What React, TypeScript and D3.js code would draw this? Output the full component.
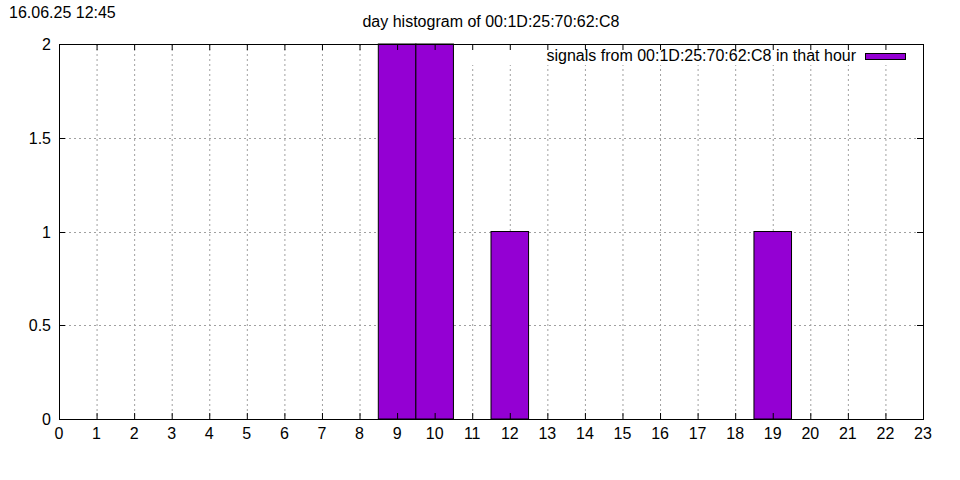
import React from "react";
import * as d3 from "d3";

const hours = [0,1,2,3,4,5,6,7,8,9,10,11,12,13,14,15,16,17,18,19,20,21,22,23];
const counts = [0,0,0,0,0,0,0,0,0,2,2,0,1,0,0,0,0,0,0,1,0,0,0,0];
const yTicks = [0, 0.5, 1, 1.5, 2];
const xTicks = hours;
const title = "day histogram of 00:1D:25:70:62:C8";
const timestamp = "16.06.25 12:45";
const legendLabel = "signals from 00:1D:25:70:62:C8 in that hour";

export default function App() {
  const W = 960, H = 480;
  const L = 59, R = 923, T = 44, B = 419;
  const x = d3.scaleLinear().domain([0, 23]).range([L, R]);
  const y = d3.scaleLinear().domain([0, 2]).range([B, T]);
  const font = "'Liberation Sans', Arial, sans-serif";
  const color = "#9400d3";
  const tick = 6;
  return (
    <svg width={W} height={H} style={{ position: "absolute", left: 0, top: 0, background: "#fff" }} fontFamily={font}>
      <rect x={0} y={0} width={W} height={H} fill="#fff" />
      {/* grid */}
      {xTicks.filter(v => v > 0 && v < 23).map(v => (
        <line key={"gx" + v} x1={x(v) + 0.5} x2={x(v) + 0.5} y1={T} y2={B} stroke="#a0a0a0" strokeWidth={1} strokeDasharray="2,3" />
      ))}
      {yTicks.filter(v => v > 0 && v < 2).map(v => (
        <line key={"gy" + v} x1={L} x2={R} y1={Math.round(y(v)) + 0.5} y2={Math.round(y(v)) + 0.5} stroke="#a0a0a0" strokeWidth={1} strokeDasharray="2,3" />
      ))}
      {/* bars */}
      {counts.map((c, i) => c > 0 ? (
        <rect key={"b" + i} x={x(hours[i] - 0.5)} y={y(c)} width={x(hours[i] + 0.5) - x(hours[i] - 0.5)} height={y(0) - y(c)} fill={color} stroke="#000" strokeWidth={1} />
      ) : null)}
      {/* legend box (opaque) */}
      <rect x={455} y={45} width={467} height={20} fill="#fff" />
      <text x={856} y={61} textAnchor="end" fontSize={16} fill="#000">{legendLabel}</text>
      <rect x={865.5} y={53.5} width={40} height={6} fill={color} stroke="#000" strokeWidth={1} />
      {/* ticks */}
      {xTicks.map(v => (
        <g key={"tx" + v}>
          <line x1={x(v) + 0.5} x2={x(v) + 0.5} y1={B} y2={B - tick} stroke="#000" />
          <line x1={x(v) + 0.5} x2={x(v) + 0.5} y1={T} y2={T + tick} stroke="#000" />
          <text x={x(v)} y={439} textAnchor="middle" fontSize={16} fill="#000">{v}</text>
        </g>
      ))}
      {yTicks.map(v => (
        <g key={"ty" + v}>
          <line x1={L} x2={L + tick} y1={Math.round(y(v)) + 0.5} y2={Math.round(y(v)) + 0.5} stroke="#000" />
          <line x1={R} x2={R - tick} y1={Math.round(y(v)) + 0.5} y2={Math.round(y(v)) + 0.5} stroke="#000" />
          <text x={51} y={y(v) + 6} textAnchor="end" fontSize={16} fill="#000">{v}</text>
        </g>
      ))}
      {/* border */}
      <rect x={L + 0.5} y={T + 0.5} width={R - L} height={B - T} fill="none" stroke="#000" strokeWidth={1} />
      <text x={491} y={27} textAnchor="middle" fontSize={16} fill="#000">{title}</text>
      <text x={9} y={18} fontSize={16} fill="#000">{timestamp}</text>
    </svg>
  );
}
